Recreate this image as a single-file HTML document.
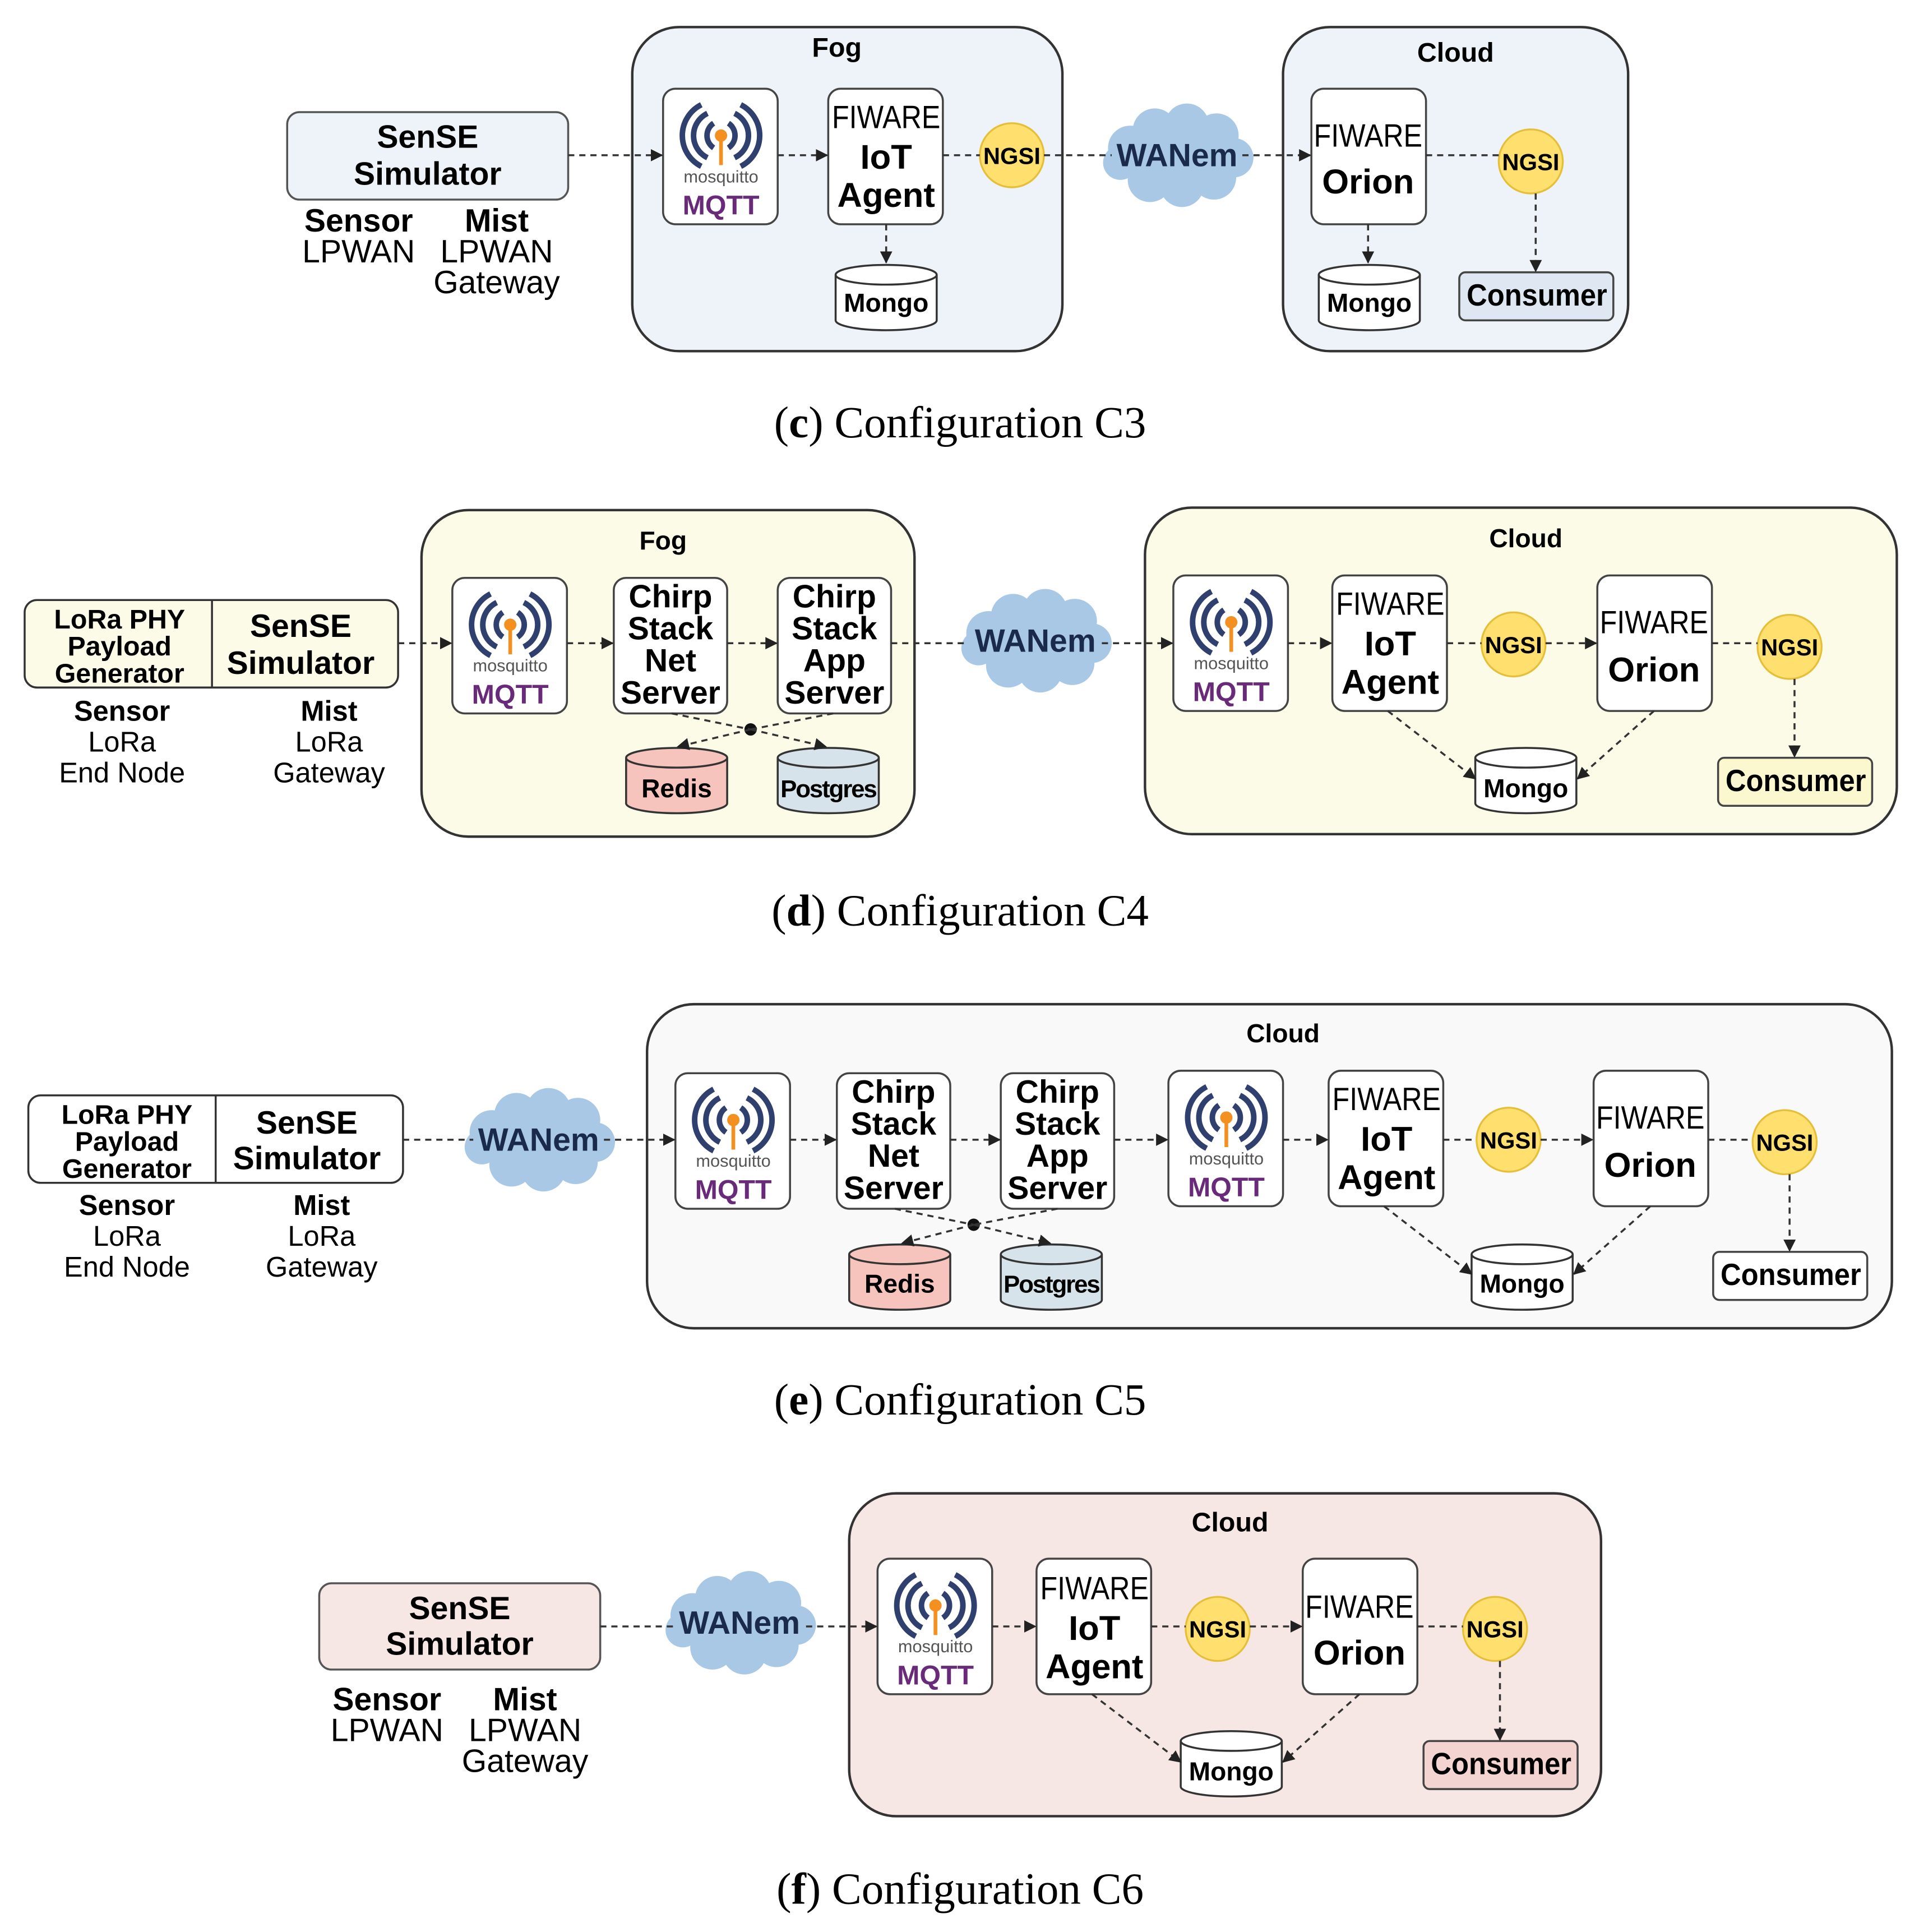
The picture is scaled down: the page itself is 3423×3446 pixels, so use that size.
<!DOCTYPE html>
<html><head><meta charset="utf-8"><style>
html,body{margin:0;padding:0;background:#fff;}
svg{display:block;}
text{font-family:"Liberation Sans",sans-serif;text-anchor:middle;}
.b{font-weight:bold;}
.cap{font-family:"Liberation Serif",serif;font-size:36px;}
.dl{stroke:#333;stroke-width:1.6;stroke-dasharray:5 4;fill:none;}
.ar{marker-end:url(#ah);}
.box{fill:#fff;stroke:#444;stroke-width:1.6;}
.cont{stroke:#333;stroke-width:2;}
.ng{fill:#ffdf6e;stroke:#e6bf3a;stroke-width:1.5;}
</style></head><body>
<svg width="3423" height="3446" viewBox="0 0 1557 1568" preserveAspectRatio="none" xmlns="http://www.w3.org/2000/svg">
<defs>
<marker id="ah" markerWidth="10" markerHeight="10" refX="9" refY="5" orient="auto" markerUnits="userSpaceOnUse"><path d="M0,0 L10,5 L0,10 z" fill="#222"/></marker>
<g id="mq">
<rect x="0" y="0" width="93" height="110" rx="10" fill="#fff" stroke="#444" stroke-width="1.6"/>
<g fill="none" stroke="#2f3f6e" stroke-width="4.5">
<path d="M41,28 A12,12 0 0 0 41,48"/><path d="M53,28 A12,12 0 0 1 53,48"/>
<path d="M36,20 A20,20 0 0 0 36,56"/><path d="M58,20 A20,20 0 0 1 58,56"/>
<path d="M31,13 A28,28 0 0 0 31,63"/><path d="M63,13 A28,28 0 0 1 63,63"/>
</g>
<line x1="47" y1="38" x2="47" y2="62" stroke="#f39020" stroke-width="3"/>
<circle cx="47" cy="38" r="5" fill="#f39020"/>
</g>
<g id="cl" fill="#a8c8e6">
<ellipse cx="0" cy="0" rx="52" ry="24"/>
<circle cx="-38" cy="-6" r="18"/><circle cx="-18" cy="-20" r="18"/><circle cx="8" cy="-24" r="18"/><circle cx="32" cy="-16" r="18"/><circle cx="46" cy="2" r="16"/>
<circle cx="30" cy="18" r="18"/><circle cx="4" cy="24" r="18"/><circle cx="-22" cy="20" r="18"/><circle cx="-46" cy="6" r="14"/>
</g>
</defs>

<!-- ===================== C3 ===================== -->
<rect class="cont" x="513" y="22" width="349" height="263" rx="38" fill="#eef3f9"/>
<text class="b" x="679" y="46" font-size="22">Fog</text>
<rect class="cont" x="1041" y="22" width="280" height="263" rx="38" fill="#eef3f9"/>
<text class="b" x="1181" y="50" font-size="22">Cloud</text>
<rect x="233" y="91" width="228" height="71" rx="10" fill="#eef3f9" stroke="#555" stroke-width="1.6"/>
<text class="b" x="347" y="120" font-size="26">SenSE</text>
<text class="b" x="347" y="150" font-size="26">Simulator</text>
<text class="b" x="291" y="188" font-size="26">Sensor</text>
<text x="291" y="213" font-size="26">LPWAN</text>
<text class="b" x="403" y="188" font-size="26">Mist</text>
<text x="403" y="213" font-size="26">LPWAN</text>
<text x="403" y="238" font-size="26">Gateway</text>
<use href="#mq" x="538" y="72"/>
<text x="585" y="148" font-size="14" fill="#555">mosquitto</text>
<text class="b" x="585" y="174" font-size="22" fill="#6a2a7a">MQTT</text>
<rect class="box" x="672" y="72" width="93" height="110" rx="10"/>
<text x="719" y="104" font-size="26" textLength="88" lengthAdjust="spacingAndGlyphs">FIWARE</text>
<text class="b" x="719" y="137" font-size="28">IoT</text>
<text class="b" x="719" y="168" font-size="28">Agent</text>
<circle class="ng" cx="821" cy="126" r="26"/><text class="b" x="821" y="133" font-size="19">NGSI</text>
<use href="#cl" x="955" y="126"/><text class="b" x="955" y="135" font-size="26" fill="#1a2a4a">WANem</text>
<rect class="box" x="1064" y="72" width="93" height="110" rx="10"/>
<text x="1110" y="119" font-size="26" textLength="88" lengthAdjust="spacingAndGlyphs">FIWARE</text>
<text class="b" x="1110" y="157" font-size="28">Orion</text>
<circle class="ng" cx="1242" cy="131" r="26"/><text class="b" x="1242" y="138" font-size="19">NGSI</text>
<path d="M678,223 v37 a41,8 0 0 0 82,0 v-37" fill="#fff" stroke="#333" stroke-width="1.6"/><ellipse cx="719" cy="223" rx="41" ry="8" fill="#fff" stroke="#333" stroke-width="1.6"/>
<text class="b" x="719" y="253" font-size="21">Mongo</text>
<path d="M1070,223 v37 a41,8 0 0 0 82,0 v-37" fill="#fff" stroke="#333" stroke-width="1.6"/><ellipse cx="1111" cy="223" rx="41" ry="8" fill="#fff" stroke="#333" stroke-width="1.6"/>
<text class="b" x="1111" y="253" font-size="21">Mongo</text>
<rect x="1184" y="221" width="125" height="39" rx="5" fill="#dfe8f2" stroke="#444" stroke-width="1.6"/>
<text class="b" x="1247" y="248" font-size="25" textLength="114" lengthAdjust="spacingAndGlyphs">Consumer</text>
<line class="dl ar" x1="461" y1="126" x2="537" y2="126"/>
<line class="dl ar" x1="631" y1="126" x2="671" y2="126"/>
<line class="dl" x1="765" y1="126" x2="795" y2="126"/>
<line class="dl" x1="847" y1="126" x2="902" y2="126"/>
<line class="dl ar" x1="1008" y1="126" x2="1063" y2="126"/>
<line class="dl" x1="1157" y1="126" x2="1216" y2="126"/>
<line class="dl ar" x1="1246" y1="157" x2="1246" y2="220"/>
<line class="dl ar" x1="719" y1="182" x2="719" y2="213"/>
<line class="dl ar" x1="1110" y1="182" x2="1110" y2="213"/>
<text class="cap" x="779" y="355"><tspan>(</tspan><tspan font-weight="bold">c</tspan><tspan>) Configuration C3</tspan></text>

<!-- ===================== C4 ===================== -->
<rect class="cont" x="342" y="414" width="400" height="265" rx="38" fill="#fbfbe8"/>
<text class="b" x="538" y="446" font-size="21">Fog</text>
<rect class="cont" x="929" y="412" width="610" height="265" rx="38" fill="#fbfbe8"/>
<text class="b" x="1238" y="444" font-size="21">Cloud</text>
<rect x="20" y="487" width="303" height="71" rx="10" fill="#fbfbe8" stroke="#333" stroke-width="1.6"/>
<line x1="172" y1="487" x2="172" y2="558" stroke="#333" stroke-width="1.6"/>
<text class="b" x="97" y="510" font-size="22">LoRa PHY</text>
<text class="b" x="97" y="532" font-size="22">Payload</text>
<text class="b" x="97" y="554" font-size="22">Generator</text>
<text class="b" x="244" y="517" font-size="26">SenSE</text>
<text class="b" x="244" y="547" font-size="26">Simulator</text>
<text class="b" x="99" y="585" font-size="23">Sensor</text>
<text x="99" y="610" font-size="23">LoRa</text>
<text x="99" y="635" font-size="23">End Node</text>
<text class="b" x="267" y="585" font-size="23">Mist</text>
<text x="267" y="610" font-size="23">LoRa</text>
<text x="267" y="635" font-size="23">Gateway</text>
<use href="#mq" x="367" y="469"/>
<text x="414" y="545" font-size="14" fill="#555">mosquitto</text>
<text class="b" x="414" y="571" font-size="22" fill="#6a2a7a">MQTT</text>
<rect class="box" x="498" y="469" width="92" height="110" rx="10"/>
<text class="b" x="544" y="493" font-size="26">Chirp</text><text class="b" x="544" y="519" font-size="26">Stack</text><text class="b" x="544" y="545" font-size="26">Net</text><text class="b" x="544" y="571" font-size="26">Server</text>
<rect class="box" x="631" y="469" width="92" height="110" rx="10"/>
<text class="b" x="677" y="493" font-size="26">Chirp</text><text class="b" x="677" y="519" font-size="26">Stack</text><text class="b" x="677" y="545" font-size="26">App</text><text class="b" x="677" y="571" font-size="26">Server</text>
<path d="M508,615 v37 a41,8 0 0 0 82,0 v-37" fill="#f6c4bc" stroke="#333" stroke-width="1.6"/><ellipse cx="549" cy="615" rx="41" ry="8" fill="#f6c4bc" stroke="#333" stroke-width="1.6"/>
<text class="b" x="549" y="647" font-size="21">Redis</text>
<path d="M631,615 v37 a41,8 0 0 0 82,0 v-37" fill="#d6e3ea" stroke="#333" stroke-width="1.6"/><ellipse cx="672" cy="615" rx="41" ry="8" fill="#d6e3ea" stroke="#333" stroke-width="1.6"/>
<text class="b" x="672" y="647" font-size="20" letter-spacing="-1">Postgres</text>
<circle cx="609" cy="592" r="5" fill="#111"/>
<line class="dl" x1="545" y1="579" x2="609" y2="592"/>
<line class="dl" x1="676" y1="579" x2="609" y2="592"/>
<line class="dl ar" x1="609" y1="592" x2="550" y2="606"/>
<line class="dl ar" x1="609" y1="592" x2="670" y2="606"/>
<use href="#cl" x="840" y="520"/><text class="b" x="840" y="529" font-size="26" fill="#1a2a4a">WANem</text>
<use href="#mq" x="952" y="467"/>
<text x="999" y="543" font-size="14" fill="#555">mosquitto</text>
<text class="b" x="999" y="569" font-size="22" fill="#6a2a7a">MQTT</text>
<rect class="box" x="1081" y="467" width="93" height="110" rx="10"/>
<text x="1128" y="499" font-size="26" textLength="88" lengthAdjust="spacingAndGlyphs">FIWARE</text>
<text class="b" x="1128" y="532" font-size="28">IoT</text>
<text class="b" x="1128" y="563" font-size="28">Agent</text>
<circle class="ng" cx="1228" cy="523" r="26"/><text class="b" x="1228" y="530" font-size="19">NGSI</text>
<rect class="box" x="1296" y="467" width="93" height="110" rx="10"/>
<text x="1342" y="514" font-size="26" textLength="88" lengthAdjust="spacingAndGlyphs">FIWARE</text>
<text class="b" x="1342" y="553" font-size="28">Orion</text>
<circle class="ng" cx="1452" cy="525" r="26"/><text class="b" x="1452" y="532" font-size="19">NGSI</text>
<path d="M1197,615 v37 a41,8 0 0 0 82,0 v-37" fill="#fff" stroke="#333" stroke-width="1.6"/><ellipse cx="1238" cy="615" rx="41" ry="8" fill="#fff" stroke="#333" stroke-width="1.6"/>
<text class="b" x="1238" y="647" font-size="21">Mongo</text>
<rect x="1394" y="615" width="125" height="39" rx="5" fill="#fbf8cf" stroke="#444" stroke-width="1.6"/>
<text class="b" x="1457" y="642" font-size="25" textLength="114" lengthAdjust="spacingAndGlyphs">Consumer</text>
<line class="dl ar" x1="323" y1="522" x2="366" y2="522"/>
<line class="dl ar" x1="460" y1="522" x2="497" y2="522"/>
<line class="dl ar" x1="590" y1="522" x2="630" y2="522"/>
<line class="dl" x1="723" y1="522" x2="786" y2="522"/>
<line class="dl ar" x1="894" y1="522" x2="951" y2="522"/>
<line class="dl ar" x1="1045" y1="522" x2="1080" y2="522"/>
<line class="dl" x1="1174" y1="522" x2="1202" y2="522"/>
<line class="dl ar" x1="1254" y1="522" x2="1295" y2="522"/>
<line class="dl" x1="1389" y1="522" x2="1426" y2="522"/>
<line class="dl ar" x1="1456" y1="551" x2="1456" y2="614"/>
<line class="dl ar" x1="1126" y1="577" x2="1197" y2="632"/>
<line class="dl ar" x1="1342" y1="577" x2="1280" y2="632"/>
<text class="cap" x="779" y="751"><tspan>(</tspan><tspan font-weight="bold">d</tspan><tspan>) Configuration C4</tspan></text>

<!-- ===================== C5 ===================== -->
<rect class="cont" x="525" y="815" width="1010" height="263" rx="38" fill="#f9f9f9"/>
<text class="b" x="1041" y="846" font-size="21">Cloud</text>
<rect x="23" y="889" width="304" height="71" rx="10" fill="#fff" stroke="#333" stroke-width="1.6"/>
<line x1="175" y1="889" x2="175" y2="960" stroke="#333" stroke-width="1.6"/>
<text class="b" x="103" y="912" font-size="22">LoRa PHY</text>
<text class="b" x="103" y="934" font-size="22">Payload</text>
<text class="b" x="103" y="956" font-size="22">Generator</text>
<text class="b" x="249" y="920" font-size="26">SenSE</text>
<text class="b" x="249" y="949" font-size="26">Simulator</text>
<text class="b" x="103" y="986" font-size="23">Sensor</text>
<text x="103" y="1011" font-size="23">LoRa</text>
<text x="103" y="1036" font-size="23">End Node</text>
<text class="b" x="261" y="986" font-size="23">Mist</text>
<text x="261" y="1011" font-size="23">LoRa</text>
<text x="261" y="1036" font-size="23">Gateway</text>
<use href="#cl" x="437" y="925"/><text class="b" x="437" y="934" font-size="26" fill="#1a2a4a">WANem</text>
<use href="#mq" x="548" y="871"/>
<text x="595" y="947" font-size="14" fill="#555">mosquitto</text>
<text class="b" x="595" y="973" font-size="22" fill="#6a2a7a">MQTT</text>
<rect class="box" x="679" y="871" width="92" height="110" rx="10"/>
<text class="b" x="725" y="895" font-size="26">Chirp</text><text class="b" x="725" y="921" font-size="26">Stack</text><text class="b" x="725" y="947" font-size="26">Net</text><text class="b" x="725" y="973" font-size="26">Server</text>
<rect class="box" x="812" y="871" width="92" height="110" rx="10"/>
<text class="b" x="858" y="895" font-size="26">Chirp</text><text class="b" x="858" y="921" font-size="26">Stack</text><text class="b" x="858" y="947" font-size="26">App</text><text class="b" x="858" y="973" font-size="26">Server</text>
<path d="M689,1018 v37 a41,8 0 0 0 82,0 v-37" fill="#f6c4bc" stroke="#333" stroke-width="1.6"/><ellipse cx="730" cy="1018" rx="41" ry="8" fill="#f6c4bc" stroke="#333" stroke-width="1.6"/>
<text class="b" x="730" y="1049" font-size="21">Redis</text>
<path d="M812,1018 v37 a41,8 0 0 0 82,0 v-37" fill="#d6e3ea" stroke="#333" stroke-width="1.6"/><ellipse cx="853" cy="1018" rx="41" ry="8" fill="#d6e3ea" stroke="#333" stroke-width="1.6"/>
<text class="b" x="853" y="1049" font-size="20" letter-spacing="-1">Postgres</text>
<circle cx="790" cy="994" r="5" fill="#111"/>
<line class="dl" x1="726" y1="981" x2="790" y2="994"/>
<line class="dl" x1="858" y1="981" x2="790" y2="994"/>
<line class="dl ar" x1="790" y1="994" x2="732" y2="1009"/>
<line class="dl ar" x1="790" y1="994" x2="852" y2="1009"/>
<use href="#mq" x="948" y="869"/>
<text x="995" y="945" font-size="14" fill="#555">mosquitto</text>
<text class="b" x="995" y="971" font-size="22" fill="#6a2a7a">MQTT</text>
<rect class="box" x="1078" y="869" width="93" height="110" rx="10"/>
<text x="1125" y="901" font-size="26" textLength="88" lengthAdjust="spacingAndGlyphs">FIWARE</text>
<text class="b" x="1125" y="934" font-size="28">IoT</text>
<text class="b" x="1125" y="965" font-size="28">Agent</text>
<circle class="ng" cx="1224" cy="925" r="26"/><text class="b" x="1224" y="932" font-size="19">NGSI</text>
<rect class="box" x="1293" y="869" width="93" height="110" rx="10"/>
<text x="1339" y="916" font-size="26" textLength="88" lengthAdjust="spacingAndGlyphs">FIWARE</text>
<text class="b" x="1339" y="955" font-size="28">Orion</text>
<circle class="ng" cx="1448" cy="927" r="26"/><text class="b" x="1448" y="934" font-size="19">NGSI</text>
<path d="M1194,1018 v37 a41,8 0 0 0 82,0 v-37" fill="#fff" stroke="#333" stroke-width="1.6"/><ellipse cx="1235" cy="1018" rx="41" ry="8" fill="#fff" stroke="#333" stroke-width="1.6"/>
<text class="b" x="1235" y="1049" font-size="21">Mongo</text>
<rect x="1390" y="1016" width="125" height="39" rx="5" fill="#fff" stroke="#444" stroke-width="1.6"/>
<text class="b" x="1453" y="1043" font-size="25" textLength="114" lengthAdjust="spacingAndGlyphs">Consumer</text>
<line class="dl" x1="327" y1="925" x2="384" y2="925"/>
<line class="dl ar" x1="490" y1="925" x2="547" y2="925"/>
<line class="dl ar" x1="641" y1="925" x2="678" y2="925"/>
<line class="dl ar" x1="771" y1="925" x2="811" y2="925"/>
<line class="dl ar" x1="904" y1="925" x2="947" y2="925"/>
<line class="dl ar" x1="1041" y1="925" x2="1077" y2="925"/>
<line class="dl" x1="1171" y1="925" x2="1198" y2="925"/>
<line class="dl ar" x1="1250" y1="925" x2="1292" y2="925"/>
<line class="dl" x1="1386" y1="925" x2="1422" y2="925"/>
<line class="dl ar" x1="1452" y1="953" x2="1452" y2="1015"/>
<line class="dl ar" x1="1123" y1="979" x2="1194" y2="1034"/>
<line class="dl ar" x1="1339" y1="979" x2="1277" y2="1034"/>
<text class="cap" x="779" y="1148"><tspan>(</tspan><tspan font-weight="bold">e</tspan><tspan>) Configuration C5</tspan></text>

<!-- ===================== C6 ===================== -->
<rect class="cont" x="689" y="1212" width="610" height="262" rx="38" fill="#f6e6e4"/>
<text class="b" x="998" y="1243" font-size="22">Cloud</text>
<rect x="259" y="1285" width="228" height="70" rx="10" fill="#f6e6e4" stroke="#555" stroke-width="1.6"/>
<text class="b" x="373" y="1314" font-size="26">SenSE</text>
<text class="b" x="373" y="1343" font-size="26">Simulator</text>
<text class="b" x="314" y="1388" font-size="26">Sensor</text>
<text x="314" y="1413" font-size="26">LPWAN</text>
<text class="b" x="426" y="1388" font-size="26">Mist</text>
<text x="426" y="1413" font-size="26">LPWAN</text>
<text x="426" y="1438" font-size="26">Gateway</text>
<use href="#cl" x="600" y="1317"/><text class="b" x="600" y="1326" font-size="26" fill="#1a2a4a">WANem</text>
<use href="#mq" x="712" y="1265"/>
<text x="759" y="1341" font-size="14" fill="#555">mosquitto</text>
<text class="b" x="759" y="1367" font-size="22" fill="#6a2a7a">MQTT</text>
<rect class="box" x="841" y="1265" width="93" height="110" rx="10"/>
<text x="888" y="1298" font-size="26" textLength="88" lengthAdjust="spacingAndGlyphs">FIWARE</text>
<text class="b" x="888" y="1331" font-size="28">IoT</text>
<text class="b" x="888" y="1362" font-size="28">Agent</text>
<circle class="ng" cx="988" cy="1322" r="26"/><text class="b" x="988" y="1329" font-size="19">NGSI</text>
<rect class="box" x="1057" y="1265" width="93" height="110" rx="10"/>
<text x="1103" y="1313" font-size="26" textLength="88" lengthAdjust="spacingAndGlyphs">FIWARE</text>
<text class="b" x="1103" y="1351" font-size="28">Orion</text>
<circle class="ng" cx="1213" cy="1322" r="26"/><text class="b" x="1213" y="1329" font-size="19">NGSI</text>
<path d="M958,1413 v37 a41,8 0 0 0 82,0 v-37" fill="#fff" stroke="#333" stroke-width="1.6"/><ellipse cx="999" cy="1413" rx="41" ry="8" fill="#fff" stroke="#333" stroke-width="1.6"/>
<text class="b" x="999" y="1445" font-size="21">Mongo</text>
<rect x="1155" y="1413" width="125" height="39" rx="5" fill="#f4d4d0" stroke="#444" stroke-width="1.6"/>
<text class="b" x="1218" y="1440" font-size="25" textLength="114" lengthAdjust="spacingAndGlyphs">Consumer</text>
<line class="dl" x1="487" y1="1320" x2="546" y2="1320"/>
<line class="dl ar" x1="654" y1="1320" x2="711" y2="1320"/>
<line class="dl ar" x1="805" y1="1320" x2="840" y2="1320"/>
<line class="dl" x1="934" y1="1320" x2="962" y2="1320"/>
<line class="dl ar" x1="1014" y1="1320" x2="1056" y2="1320"/>
<line class="dl" x1="1150" y1="1320" x2="1187" y2="1320"/>
<line class="dl ar" x1="1217" y1="1348" x2="1217" y2="1412"/>
<line class="dl ar" x1="886" y1="1375" x2="958" y2="1430"/>
<line class="dl ar" x1="1103" y1="1375" x2="1041" y2="1430"/>
<text class="cap" x="779" y="1545"><tspan>(</tspan><tspan font-weight="bold">f</tspan><tspan>) Configuration C6</tspan></text>
</svg>
</body></html>
